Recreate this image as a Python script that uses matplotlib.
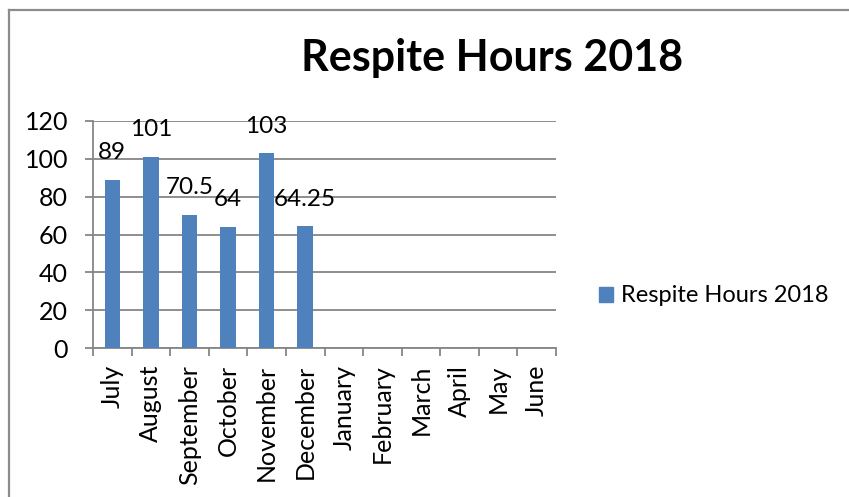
import matplotlib
matplotlib.use("Agg")
import matplotlib.pyplot as plt
from matplotlib.patches import Patch
from matplotlib.lines import Line2D

months = ["July", "August", "September", "October", "November", "December",
          "January", "February", "March", "April", "May", "June"]
hours = [89, 101, 70.5, 64, 103, 64.25]
labels = ["89", "101", "70.5", "64", "103", "64.25"]
y_ticks = [0, 20, 40, 60, 80, 100, 120]

bar_color = "#4F81BD"
grid_color = "#868686"

plt.rcParams['font.family'] = ['Lato', 'DejaVu Sans']

W, H = 849, 497
fig = plt.figure(figsize=(W / 100, H / 100), dpi=100)

# outer chart border (only top and left edges are visible in the reference)
bx, by = 8.5 / W, 1 - 9.5 / H
fig.add_artist(Line2D([bx, 1.0], [by, by], transform=fig.transFigure,
                      color="#8c8c8c", linewidth=1.6))
fig.add_artist(Line2D([bx, bx], [by, 0.0], transform=fig.transFigure,
                      color="#8c8c8c", linewidth=1.6))

ax = fig.add_axes([93 / W, 1 - 348 / H, (556 - 93) / W, (348 - 121) / H])

x = list(range(len(hours)))
ax.bar(x, hours, width=0.4, color=bar_color, zorder=3)

for xi, v, lab in zip(x, hours, labels):
    ax.annotate(lab, (xi, v), xytext=(0, 27), textcoords="offset pixels",
                ha="center", va="center", fontsize=17.5, color="black", zorder=4)

ax.set_xlim(-0.5, len(months) - 0.5)
ax.set_ylim(0, 120)
ax.set_yticks(y_ticks)
ax.yaxis.grid(True, color=grid_color, linewidth=1.3, zorder=0)

ax.set_xticks(range(len(months)))
ax.set_xticklabels(months, rotation=90, fontsize=18)
ax.set_xticks([i - 0.5 for i in range(len(months) + 1)], minor=True)
ax.tick_params(axis="x", which="major", length=0, pad=12)
ax.tick_params(axis="x", which="minor", length=6, color=grid_color, width=1.3)
ax.tick_params(axis="y", length=6, color=grid_color, width=1.3, pad=12, labelsize=18)

for s in ["top", "right"]:
    ax.spines[s].set_visible(False)
for s in ["left", "bottom"]:
    ax.spines[s].set_color(grid_color)
    ax.spines[s].set_linewidth(1.3)

fig.text(492 / W, 1 - 58 / H, "Respite Hours 2018", ha="center", va="center",
         fontsize=31, fontweight="bold")

fig.legend(handles=[Patch(color=bar_color, label="Respite Hours 2018")],
           loc="center left", bbox_to_anchor=(599 / W, 1 - 296 / H),
           frameon=False, fontsize=17, handlelength=0.6, handleheight=0.6,
           handletextpad=0.35, borderpad=0, borderaxespad=0)

fig.savefig("out.png", dpi=100)
